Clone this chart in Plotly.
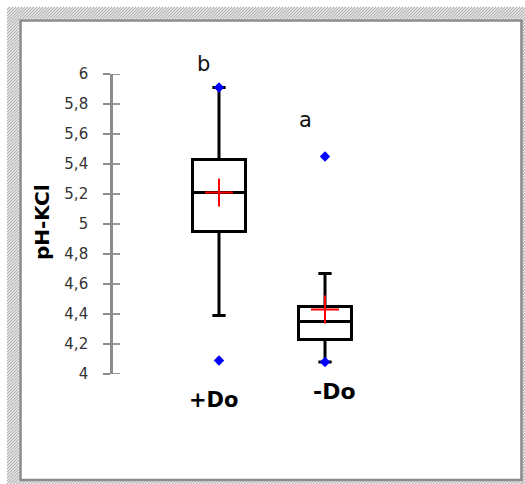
import plotly.graph_objects as go

# ---------------- data ----------------
categories = ["+Do", "-Do"]
q1 = [4.95, 4.23]
median = [5.21, 4.35]
q3 = [5.43, 4.45]
lower_whisker = [4.39, 4.08]
upper_whisker = [5.91, 4.67]
means = [5.21, 4.43]
minimum = [4.09, 4.08]
maximum = [5.91, 5.45]
group_letters = ["b", "a"]
y_ticks = [4, 4.2, 4.4, 4.6, 4.8, 5, 5.2, 5.4, 5.6, 5.8, 6]
y_title = "pH-KCl"

# ---------------- layout geometry ----------------
W, H = 525, 484
ML, MR, MT, MB = 113, 94, 74, 110
PW, PH = W - ML - MR, H - MT - MB


def px(xp):
    return (xp - ML) / PW


def py(yp):
    return (H - MB - yp) / PH


xpos = list(range(len(categories)))

fig = go.Figure()

for i, c in enumerate(categories):
    fig.add_trace(go.Box(
        x=[xpos[i]], q1=[q1[i]], median=[median[i]], q3=[q3[i]],
        lowerfence=[lower_whisker[i]], upperfence=[upper_whisker[i]],
        width=0.5, whiskerwidth=0.25, boxpoints=False,
        line=dict(color="black", width=3), fillcolor="rgba(0,0,0,0)",
        name=c, showlegend=False, hoverinfo="skip",
    ))

# min / max points
fig.add_trace(go.Scatter(
    x=xpos + xpos, y=minimum + maximum, mode="markers",
    marker=dict(symbol="diamond", size=8, color="#0000ff"),
    showlegend=False, hoverinfo="skip", cliponaxis=False,
))
# means
fig.add_trace(go.Scatter(
    x=xpos, y=means, mode="markers",
    marker=dict(symbol="cross-thin", size=20, line=dict(color="#ff0000", width=2)),
    showlegend=False, hoverinfo="skip", cliponaxis=False,
))

# ---------------- frame (hatched border) ----------------
shapes = []


def hatch(x0, x1, y0, y1, step=3):
    segs = []
    c = x0 + y0
    while c <= x1 + y1:
        xa = max(x0, c - y1)
        xb = min(x1, c - y0)
        if xb > xa:
            segs.append("M{:.5f},{:.5f}L{:.5f},{:.5f}".format(px(xa), py(c - xa), px(xb), py(c - xb)))
        c += step
    return segs


segs = []
segs += hatch(7, 525, 7, 19)
segs += hatch(7, 19, 19, 484)
segs += hatch(522.5, 525, 19, 484)
segs += hatch(19, 522.5, 481, 484)
shapes.append(dict(type="path", xref="paper", yref="paper", path="".join(segs),
                   line=dict(color="#b4b4b4", width=1.3), layer="below"))
shapes.append(dict(type="rect", xref="paper", yref="paper",
                   x0=px(20.5), x1=px(521.5), y0=py(480), y1=py(20.5),
                   line=dict(color="#8c8c8c", width=2.6), layer="below"))
# inside half of the cross-shaped ticks
for t in y_ticks:
    shapes.append(dict(type="line", xref="paper", yref="y", x0=px(113), x1=px(120),
                       y0=t, y1=t, line=dict(color="#8c8c8c", width=1.8), layer="above"))
fig.update_layout(shapes=shapes)

# ---------------- annotations ----------------
ann = []
letter_pos = [(-16, 64), (-20, 120)]
for i, t in enumerate(group_letters):
    ann.append(dict(text=t, xref="x", yref="paper", x=xpos[i], xshift=letter_pos[i][0],
                    y=py(letter_pos[i][1]), showarrow=False, xanchor="center", yanchor="middle",
                    font=dict(size=21, color="#111", family="DejaVu Sans")))
cat_pos = [(-6, 400, 21), (9, 391, 22)]
for i, c in enumerate(categories):
    ann.append(dict(text="<b>" + c + "</b>", xref="x", yref="paper", x=xpos[i], xshift=cat_pos[i][0],
                    y=py(cat_pos[i][1]), showarrow=False, xanchor="center", yanchor="middle",
                    font=dict(size=cat_pos[i][2], color="black", family="DejaVu Sans")))
ann.append(dict(text="<b>" + y_title + "</b>", xref="paper", yref="paper", x=px(42), y=py(222),
                textangle=-90, showarrow=False, xanchor="center", yanchor="middle",
                font=dict(size=20, color="black", family="DejaVu Sans")))
fig.update_layout(annotations=ann)

fig.update_layout(
    width=W, height=H, margin=dict(l=ML, r=MR, t=MT, b=MB, autoexpand=False),
    paper_bgcolor="white", plot_bgcolor="rgba(0,0,0,0)",
    separators=", ",
    showlegend=False,
    xaxis=dict(range=[-1, 2], visible=False),
    yaxis=dict(range=[4, 6], tickvals=y_ticks, showgrid=False, zeroline=False,
               showline=True, linecolor="#8c8c8c", linewidth=2.6,
               ticks="outside", ticklen=7, tickwidth=1.8, tickcolor="#8c8c8c",
               ticklabelstandoff=12,
               tickfont=dict(family="DejaVu Sans", size=15, color="#333")),
)

fig.write_html("out.html")
